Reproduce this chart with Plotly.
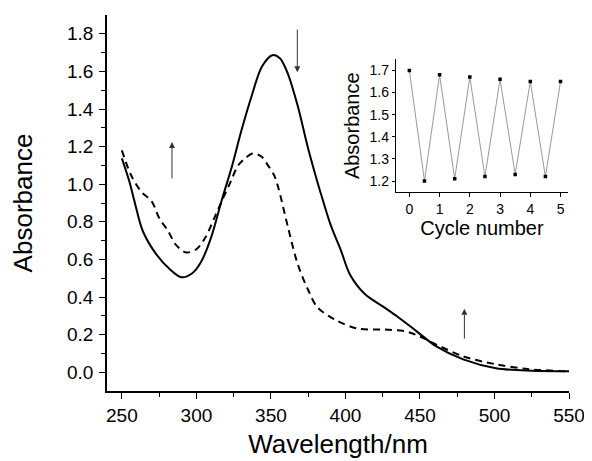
import plotly.graph_objects as go

# ---- data ----
wl_solid = [250, 255, 259, 264, 273, 282, 290, 297, 303, 310, 317, 324, 330, 337, 344, 351,
            356, 361, 368, 375, 383, 390, 397, 403, 413, 425, 435, 448, 461, 479, 501, 525, 550]
abs_solid = [1.137, 1.014, 0.891, 0.751, 0.628, 0.549, 0.505, 0.525, 0.585, 0.72, 0.915, 1.1,
             1.28, 1.468, 1.626, 1.686, 1.67, 1.595, 1.416, 1.189, 0.963, 0.785, 0.647, 0.52,
             0.416, 0.35, 0.295, 0.216, 0.137, 0.068, 0.021, 0.008, 0.005]

wl_dash = [250, 256, 263, 270, 275, 281, 286, 293, 300, 306, 312, 317, 323, 328, 333, 338,
           344, 348, 352, 355, 361, 368, 375, 381, 393, 408, 426, 441, 450, 461, 479, 501, 523, 550]
abs_dash = [1.18, 1.05, 0.96, 0.909, 0.82, 0.751, 0.68, 0.637, 0.654, 0.716, 0.82, 0.91, 1.014,
            1.1, 1.14, 1.163, 1.145, 1.1, 1.05, 0.98, 0.785, 0.574, 0.437, 0.347, 0.279,
            0.232, 0.227, 0.216, 0.19, 0.147, 0.084, 0.042, 0.016, 0.005]

cycle = [0, 0.5, 1, 1.5, 2, 2.5, 3, 3.5, 4, 4.5, 5]
cycle_abs = [1.70, 1.20, 1.68, 1.21, 1.67, 1.22, 1.66, 1.23, 1.65, 1.22, 1.65]

# arrows (tail -> tip) in data units
arrows = [((283.6, 1.023), (283.6, 1.225)),
          ((367.7, 1.83), (367.7, 1.595)),
          ((479.8, 0.171), (479.8, 0.338))]

FONT = "Liberation Sans, Arial, sans-serif"

fig = go.Figure()
fig.add_trace(go.Scatter(x=wl_solid, y=abs_solid, mode="lines",
                         line=dict(color="black", width=2, shape="spline", smoothing=0.9),
                         showlegend=False, xaxis="x", yaxis="y"))
fig.add_trace(go.Scatter(x=wl_dash, y=abs_dash, mode="lines",
                         line=dict(color="black", width=2, dash="7px,5px", shape="spline", smoothing=0.9),
                         showlegend=False, xaxis="x", yaxis="y"))
fig.add_trace(go.Scatter(x=cycle, y=cycle_abs, mode="lines+markers",
                         line=dict(color="#999999", width=1),
                         marker=dict(symbol="square", size=3.5, color="black"),
                         showlegend=False, xaxis="x2", yaxis="y2"))

for (tx, ty), (hx, hy) in arrows:
    fig.add_annotation(x=hx, y=hy, ax=tx, ay=ty, xref="x", yref="y", axref="x", ayref="y",
                       text="", showarrow=True, arrowhead=2, arrowsize=1.2, arrowwidth=1,
                       arrowcolor="#333333")

axis_common = dict(showgrid=False, zeroline=False, showline=True, linecolor="black", linewidth=1.5,
                   ticks="outside", tickcolor="black", mirror=False)

# the page body has an 8px default margin, so the figure is 8px smaller than the window
fig.update_layout(
    width=584, height=453,
    margin=dict(l=99, r=18, t=7, b=66),
    paper_bgcolor="white", plot_bgcolor="white",
    font=dict(family=FONT, color="black"),
    xaxis=dict(domain=[0, 1], range=[240, 550], tickvals=[250, 300, 350, 400, 450, 500, 550],
               ticklen=6, tickwidth=1.2, tickfont=dict(size=19), ticklabeloverflow="allow",
               minor=dict(tickvals=[275, 325, 375, 425, 475, 525], ticklen=4, tickcolor="black", ticks="outside"),
               title=dict(text="Wavelength/nm", font=dict(size=26), standoff=10),
               **axis_common),
    yaxis=dict(domain=[0, 1], range=[-0.1, 1.9], tickvals=[0, 0.2, 0.4, 0.6, 0.8, 1.0, 1.2, 1.4, 1.6, 1.8],
               tickformat=".1f", ticklen=6, tickwidth=1.2, tickfont=dict(size=19), ticklabelstandoff=2,
               minor=dict(tickvals=[0.1, 0.3, 0.5, 0.7, 0.9, 1.1, 1.3, 1.5, 1.7], ticklen=4,
                          tickcolor="black", ticks="outside"),
               title=dict(text="Absorbance", font=dict(size=26), standoff=32),
               **axis_common),
    xaxis2=dict(domain=[0.625, 0.998], anchor="y2", range=[-0.45, 5.25], tickvals=[0, 1, 2, 3, 4, 5],
                ticklen=4, tickwidth=1, tickfont=dict(size=14),
                title=dict(text="Cycle number", font=dict(size=20), standoff=2),
                showgrid=False, zeroline=False, showline=True, linecolor="black", linewidth=1,
                ticks="outside", tickcolor="black"),
    yaxis2=dict(domain=[0.529, 0.882], anchor="x2", range=[1.15, 1.75],
                tickvals=[1.2, 1.3, 1.4, 1.5, 1.6, 1.7], tickformat=".1f",
                ticklen=3, tickwidth=1, tickfont=dict(size=14),
                title=dict(text="Absorbance", font=dict(size=20), standoff=4),
                showgrid=False, zeroline=False, showline=True, linecolor="black", linewidth=1,
                ticks="outside", tickcolor="black"),
)

fig.write_html("out.html")
